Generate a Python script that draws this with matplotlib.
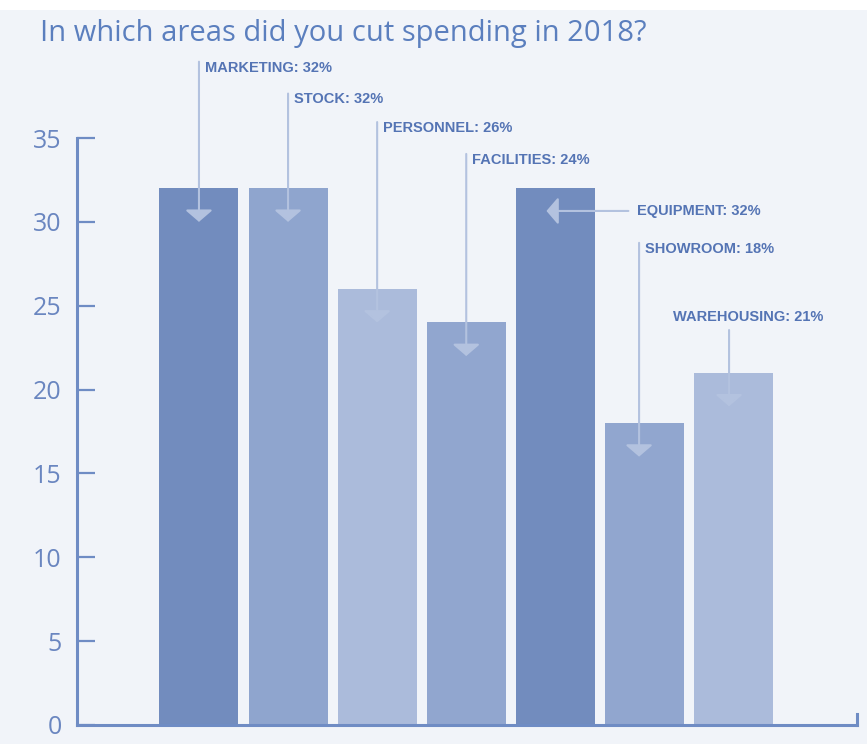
import matplotlib
matplotlib.use("Agg")
import matplotlib.pyplot as plt
from matplotlib.patches import Rectangle

# ---- data ----
categories = ["MARKETING", "STOCK", "PERSONNEL", "FACILITIES", "EQUIPMENT", "SHOWROOM", "WAREHOUSING"]
values = [32, 32, 26, 24, 32, 18, 21]
yticks = [0, 5, 10, 15, 20, 25, 30, 35]
title = "In which areas did you cut spending in 2018?"

# ---- style / layout ----
bar_colors = ["#728cbe", "#8fa5ce", "#abbbdb", "#91a6cf", "#728cbe", "#91a6cf", "#abbbdb"]
bg = "#f1f4f9"
axis_col = "#6f8cc4"
text_col = "#5474b4"
arrow_col = "#b3c2df"
# label heights (data units) and x offset of the line relative to bar centre
label_y = [39.2, 37.3, 35.6, 33.7, 30.65, 28.4, 24.3]
line_dx = [0, 0, 0, 0, 0, -0.06, -0.05]

W, H = 867, 744
fig = plt.figure(figsize=(W / 100, H / 100), dpi=100)
fig.patch.set_facecolor(bg)
fig.patches.append(Rectangle((0, 1 - 10 / H), 1, 10 / H, transform=fig.transFigure,
                             facecolor="white", edgecolor="none", zorder=0))

ax = fig.add_axes([77 / W, 19 / H, 780 / W, 587 / H])
ax.set_facecolor(bg)

x = list(range(len(values)))
ax.bar(x, values, width=0.887, color=bar_colors, zorder=2)
ax.set_xlim(-1.369, 7.386)
ax.set_ylim(0, 35)

ax.spines["top"].set_visible(False)
for s in ["left", "bottom", "right"]:
    ax.spines[s].set_color(axis_col)
    ax.spines[s].set_linewidth(2.2)
ax.spines["right"].set_bounds(0, 0.65)
ax.set_xticks([])
ax.set_yticks(yticks)
ax.tick_params(axis="y", direction="in", length=13, width=1.6, color=axis_col,
               labelsize=18, labelcolor="#6a86c0", pad=11)
for lab in ax.get_yticklabels():
    lab.set_family(["Open Sans", "DejaVu Sans"])

lab_font = dict(family=["Liberation Sans", "DejaVu Sans"], weight="bold",
                size=10.5, color=text_col)
arrow_kw = dict(arrowstyle="-|>,head_length=0.6,head_width=0.7",
                color=arrow_col, lw=1.5, mutation_scale=12, shrinkA=0, shrinkB=0)

for i, (c, v) in enumerate(zip(categories, values)):
    txt = f"{c}: {v}%"
    if c == "EQUIPMENT":
        ax.annotate("", xy=(i - 0.1, label_y[i]), xytext=(i + 0.82, label_y[i]),
                    arrowprops=arrow_kw, annotation_clip=False, zorder=3)
        ax.text(i + 0.92, label_y[i], txt, va="center", ha="left", **lab_font)
    elif c == "WAREHOUSING":
        lx = i + line_dx[i]
        ax.annotate("", xy=(lx, v - 2), xytext=(lx, label_y[i] - 0.75),
                    arrowprops=arrow_kw, annotation_clip=False, zorder=3)
        ax.text(lx - 0.63, label_y[i], txt, va="center", ha="left", **lab_font)
    else:
        lx = i + line_dx[i]
        ax.annotate("", xy=(lx, v - 2), xytext=(lx, label_y[i] + 0.35),
                    arrowprops=arrow_kw, annotation_clip=False, zorder=3)
        ax.text(lx + 0.07, label_y[i], txt, va="center", ha="left", **lab_font)

fig.text(40 / W, 1 - 33 / H, title, ha="left", va="center", fontsize=21,
         color="#5b7fbe", family=["Open Sans", "DejaVu Sans"])

fig.savefig("out.png", dpi=100, facecolor=fig.get_facecolor())
